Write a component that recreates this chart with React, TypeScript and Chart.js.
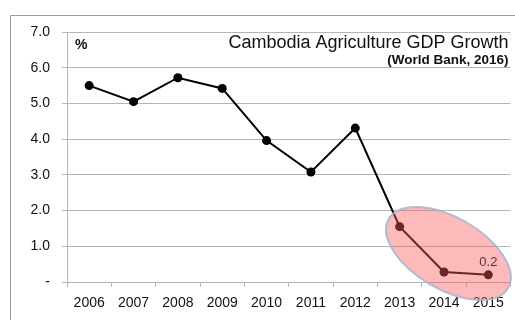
import React, { useEffect, useRef } from "react";
import { Chart, registerables } from "chart.js";

Chart.register(...registerables);

const years = ["2006", "2007", "2008", "2009", "2010", "2011", "2012", "2013", "2014", "2015"];
const growth = [5.5, 5.05, 5.72, 5.42, 3.96, 3.08, 4.31, 1.55, 0.28, 0.2];
const yTicks = [0, 1, 2, 3, 4, 5, 6, 7];
const titleText = "Cambodia Agriculture GDP Growth";
const subtitleText = "(World Bank, 2016)";
const unitText = "%";
const labelIndex = 9;

const FONT = "'Liberation Sans', Arial, sans-serif";

export default function App() {
  const ref = useRef<HTMLCanvasElement | null>(null);

  useEffect(() => {
    document.body.style.margin = "0";
    const canvas = ref.current!;
    const decor = {
      id: "decor",
      beforeDraw(chart: any) {
        const ctx = chart.ctx;
        ctx.save();
        ctx.strokeStyle = "#9a9a9a";
        ctx.lineWidth = 1;
        ctx.beginPath();
        ctx.moveTo(10.5, 330);
        ctx.lineTo(10.5, 15.5);
        ctx.lineTo(530, 15.5);
        ctx.stroke();
        ctx.restore();
      },
      afterDatasetsDraw(chart: any) {
        const ctx = chart.ctx;
        const xs = chart.scales.x;
        const ys = chart.scales.y;
        const ca = chart.chartArea;
        // highlight ellipse
        const cx = xs.getPixelForValue(8.1);
        const cy = ys.getPixelForValue(0.8);
        ctx.save();
        ctx.beginPath();
        ctx.ellipse(cx, cy, 69, 36, Math.PI / 6, 0, Math.PI * 2);
        ctx.fillStyle = "rgba(250, 90, 90, 0.42)";
        ctx.fill();
        ctx.lineWidth = 2;
        ctx.strokeStyle = "rgba(165, 182, 205, 0.85)";
        ctx.stroke();
        ctx.restore();
        // data label
        const meta = chart.getDatasetMeta(0);
        const pt = meta.data[labelIndex];
        ctx.save();
        ctx.font = "13px " + FONT;
        ctx.fillStyle = "#5a3434";
        ctx.textAlign = "center";
        ctx.textBaseline = "bottom";
        ctx.fillText(growth[labelIndex].toFixed(1), pt.x, pt.y - 6);
        ctx.restore();
        // titles
        ctx.save();
        ctx.fillStyle = "#111";
        ctx.textAlign = "right";
        ctx.textBaseline = "alphabetic";
        ctx.font = "18px " + FONT;
        ctx.fillText(titleText, ca.right - 2, ca.top + 16);
        ctx.font = "bold 13.5px " + FONT;
        ctx.fillText(subtitleText, ca.right - 2, ca.top + 32);
        ctx.textAlign = "left";
        ctx.font = "bold 14px " + FONT;
        ctx.fillText(unitText, ca.left + 8, ca.top + 17);
        ctx.restore();
      },
    };

    const chart = new Chart(canvas, {
      type: "line",
      data: {
        labels: years,
        datasets: [
          {
            data: growth,
            borderColor: "#000",
            backgroundColor: "#000",
            borderWidth: 2,
            pointRadius: 4.5,
            pointBackgroundColor: "#000",
            pointBorderWidth: 0,
            tension: 0,
          },
        ],
      },
      options: {
        animation: false,
        responsive: false,
        maintainAspectRatio: false,
        layout: { padding: { left: 0, top: 32, right: 4, bottom: 0 } },
        plugins: { legend: { display: false }, tooltip: { enabled: false }, title: { display: false } },
        scales: {
          x: {
            offset: true,
            grid: {
              offset: true,
              drawOnChartArea: false,
              drawTicks: true,
              tickLength: 5,
              color: "#b5b5b5",
            },
            border: { color: "#b5b5b5", width: 1 },
            ticks: {
              color: "#111",
              font: { family: FONT, size: 14 },
              padding: 8,
              maxRotation: 0,
              autoSkip: false,
            },
            afterFit(scale: any) {
              scale.height = 38;
            },
          },
          y: {
            min: 0,
            max: 7,
            afterBuildTicks(scale: any) {
              scale.ticks = yTicks.map((v) => ({ value: v }));
            },
            grid: { color: "#b5b5b5", lineWidth: 1, tickLength: 5, drawTicks: true },
            border: { color: "#b5b5b5", width: 1 },
            ticks: {
              color: "#111",
              font: { family: FONT, size: 14 },
              padding: 12,
              callback: (v: any) => (Number(v) === 0 ? "-" : Number(v).toFixed(1)),
            },
            afterFit(scale: any) {
              scale.width = 67;
            },
          },
        },
      },
      plugins: [decor],
    });
    return () => chart.destroy();
  }, []);

  return (
    <div style={{ position: "absolute", left: 0, top: 0, width: 515, height: 320, background: "#fff" }}>
      <canvas ref={ref} width={515} height={320} style={{ width: 515, height: 320, display: "block" }} />
    </div>
  );
}
